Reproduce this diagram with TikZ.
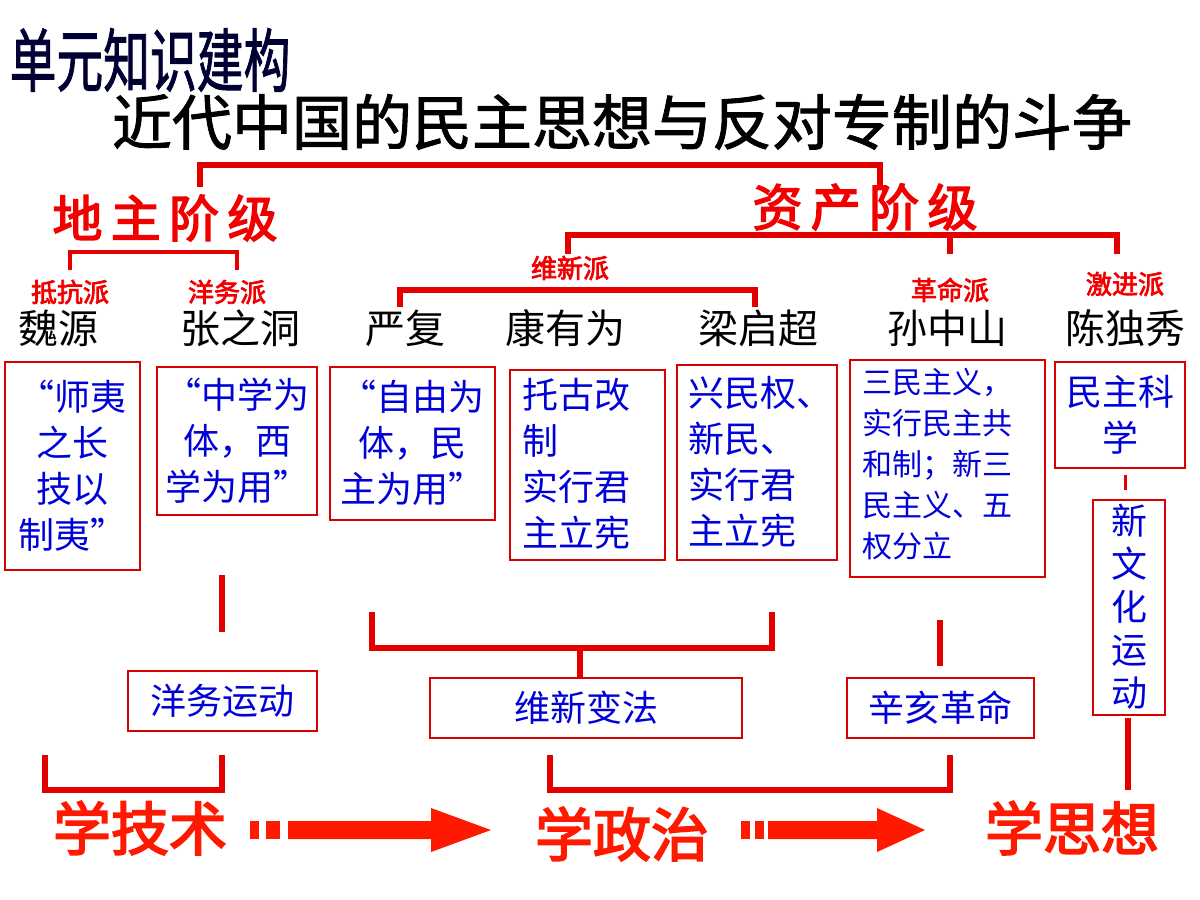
\documentclass[tikz,border=0pt]{standalone}
\usepackage{fontspec}
\setmainfont{Noto Sans CJK SC}
\newfontfamily\cjkb[FakeBold=3]{Noto Sans CJK SC}
\newfontfamily\cjkbb[FakeBold=1.5]{Noto Sans CJK SC}
\begin{document}
\begin{tikzpicture}[x=1pt,y=-1pt,
  ln/.style={line width=6pt,draw=red!90!black},
  thin/.style={line width=4pt,draw=red!90!black},
  box/.style={draw=red!85!black,line width=2pt,inner sep=0pt},
  bt/.style={text=blue!85!black,inner sep=0pt,align=center,font=\fontsize{36}{46}\selectfont},
  bl/.style={text=blue!85!black,inner sep=0pt,align=left,font=\fontsize{36}{46}\selectfont},
  cls/.style={text=red!95!black,font=\cjkb\fontsize{50}{54}\selectfont},
  sub/.style={text=red!95!black,font=\cjkb\fontsize{26}{28}\selectfont,inner sep=0pt},
  nm/.style={font=\fontsize{40}{44}\selectfont,inner sep=0pt},
  lr/.style={text=orange!20!red,font=\cjkb\fontsize{58}{62}\selectfont},
  arr/.style={fill=orange!20!red}]
\useasboundingbox (0,0) rectangle (1200,900);
\node[font=\cjkbb\fontsize{60}{64}\selectfont,text=black!80!blue,xscale=0.78,yscale=1.15,inner sep=0pt] (t0) at (150,60) {单元知识建构};
\node[font=\cjkbb\fontsize{60}{64}\selectfont] (t1) at (622,122) {近代中国的民主思想与反对专制的斗争};
\coordinate (a1) at (200,187); \coordinate (a2) at (880,187);
\draw[ln] (a1) -- (200,165) -- (880,165) -- (a2);
\node[cls] (dz) at (165,218) {地\,主\,阶\,级};
\node[cls] (zc) at (865,207) {资\,产\,阶\,级};
\draw[thin] (70,270) -- (70,252) -- (237,252) -- (237,270);
\draw[ln] (568,254) -- (568,235) -- (1117,235) -- (1117,254);
\draw[ln] (950,235) -- (950,254);
\node[sub] (wx) at (570,268) {维新派};
\draw[ln] (400,307) -- (400,290) -- (755,290) -- (755,307);
\node[sub] (dk) at (70,292) {抵抗派};
\node[sub] (yw) at (227,292) {洋务派};
\node[sub] (gm) at (950,290) {革命派};
\node[sub] (jj) at (1125,284) {激进派};
\node[nm] (n1) at (58,328) {魏源};
\node[nm] (n2) at (240,328) {张之洞};
\node[nm] (n3) at (405,328) {严复};
\node[nm] (n4) at (565,328) {康有为};
\node[nm] (n5) at (758,328) {梁启超};
\node[nm] (n6) at (947,328) {孙中山};
\node[nm] (n7) at (1125,328) {陈独秀};
\draw[box] (5,362) rectangle (140,570);
\node[bt] (b1) at (72,466) {“师夷\\之长\\技以\\制夷”};
\draw[box] (157,367) rectangle (317,515);
\node[bt] (b2) at (237,441) {“中学为\\体，西\\学为用”};
\draw[box] (330,367) rectangle (495,520);
\node[bt] (b3) at (412,443) {“自由为\\体，民\\主为用”};
\draw[box] (510,370) rectangle (665,560);
\node[bl,anchor=north west] (b4) at (522,378) {托古改\\制\\实行君\\主立宪};
\draw[box] (677,365) rectangle (837,560);
\node[bl,anchor=north west] (b5) at (688,376) {兴民权、\\新民、\\实行君\\主立宪};
\draw[box] (850,360) rectangle (1045,577);
\node[bl,anchor=north west,font=\fontsize{30}{41}\selectfont] (b6) at (862,368) {三民主义，\\实行民主共\\和制；新三\\民主义、五\\权分立};
\draw[box] (1055,362) rectangle (1185,468);
\node[bt] (b7) at (1120,415) {民主科\\学};
\draw[box] (1093,500) rectangle (1165,715);
\node[bt,font=\fontsize{36}{43}\selectfont] (b8) at (1129,607) {新\\文\\化\\运\\动};
\draw[line width=3pt,red!90!black] (1125,475) -- (1125,490);
\draw[ln] (222,575) -- (222,632);
\draw[ln] (372,612) -- (372,648) -- (772,648) -- (772,612);
\draw[ln] (580,648) -- (580,678);
\draw[ln] (940,620) -- (940,666);
\node[box,minimum width=189pt,minimum height=60pt,bt] (y1) at (222,701) {洋务运动};
\node[box,minimum width=312pt,minimum height=60pt,bt] (y2) at (586,708) {维新变法};
\node[box,minimum width=187pt,minimum height=60pt,bt] (y3) at (940,708) {辛亥革命};
\draw[ln] (45,755) -- (45,790) -- (222,790) -- (222,755);
\draw[ln] (550,755) -- (550,790) -- (950,790) -- (950,755);
\draw[ln] (1128,718) -- (1128,790);
\node[lr] (l1) at (140,828) {学技术};
\node[lr] (l2) at (622,834) {学政治};
\node[lr] (l3) at (1072,828) {学思想};
\fill[arr] (250,821) rectangle (259,839);
\fill[arr] (266,821) rectangle (280,839);
\fill[arr] (288,821) -- (431,821) -- (431,808) -- (491,830) -- (431,852) -- (431,839) -- (288,839) -- cycle;
\fill[arr] (741,821) rectangle (750,839);
\fill[arr] (755,821) rectangle (764,839);
\fill[arr] (768,821) -- (877,821) -- (877,808) -- (925,830) -- (877,852) -- (877,839) -- (768,839) -- cycle;
\end{tikzpicture}
\end{document}
